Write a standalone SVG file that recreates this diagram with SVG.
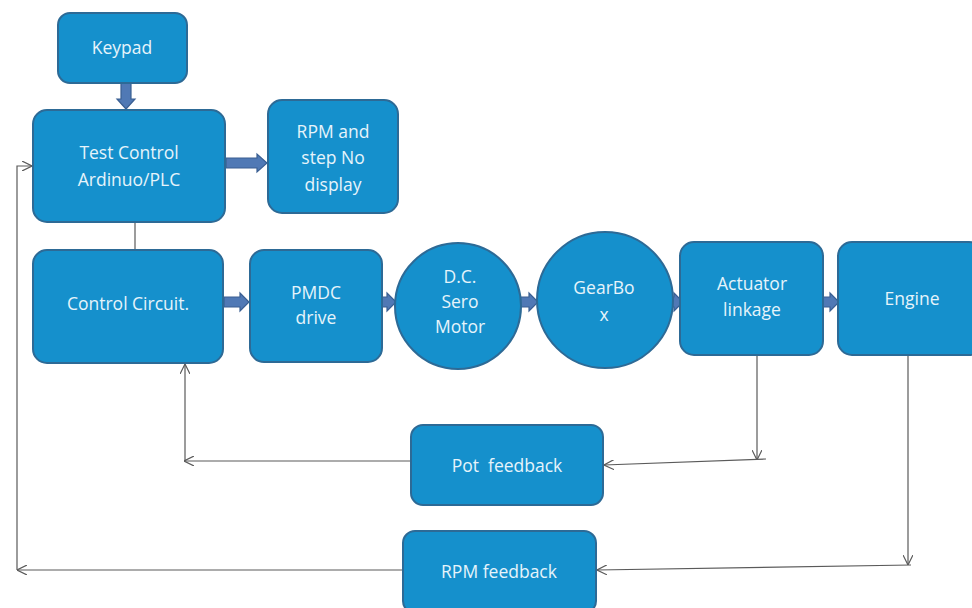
<svg xmlns="http://www.w3.org/2000/svg" width="972" height="608" viewBox="0 0 972 608">
<defs>
<style>
.n{fill:#1590cc;stroke:#2d6a96;stroke-width:2}
.t{fill:#e6f4fb;font-family:"Open Sans","Liberation Sans",sans-serif;font-size:17.5px;text-anchor:middle;white-space:pre}
.ln{fill:none;stroke:#5a5a5a;stroke-width:1.2}
.ba{fill:#5079b5;stroke:#3a5f92;stroke-width:1.2}
</style>
<marker id="ah" viewBox="0 0 10 10" refX="10" refY="5" markerWidth="10" markerHeight="10" markerUnits="userSpaceOnUse" orient="auto">
<path d="M0,0 L10,5 L0,10" fill="none" stroke="#5a5a5a" stroke-width="1.2"/>
</marker>
</defs>
<rect width="972" height="608" fill="#ffffff"/>
<g id="connectors">
<polygon class="ba" points="121,83 131,83 131,99 135,99 126,109 117,99 121,99"/>
<polygon class="ba" points="226,158 257,158 257,154 267,163 257,172 257,168 226,168"/>
<polygon class="ba" points="224,297 240,297 240,293 249,302 240,311 240,307 224,307"/>
<polygon class="ba" points="382,297 387,297 387,293 396,302 387,311 387,307 382,307"/>
<polygon class="ba" points="520,297 529,297 529,293 538,302 529,311 529,307 520,307"/>
<polygon class="ba" points="663,297 674,297 674,293 683,302 674,311 674,307 663,307"/>
<polygon class="ba" points="823,297 830,297 830,293 839,302 830,311 830,307 823,307"/>
<line class="ln" x1="135" y1="222" x2="135" y2="250"/>
<line class="ln" x1="757" y1="355" x2="757" y2="460" marker-end="url(#ah)"/>
<line class="ln" x1="766" y1="459" x2="604" y2="465" marker-end="url(#ah)"/>
<line class="ln" x1="411" y1="461" x2="184" y2="461" marker-end="url(#ah)"/>
<line class="ln" x1="185" y1="461" x2="185" y2="364" marker-end="url(#ah)"/>
<line class="ln" x1="908" y1="355" x2="908" y2="565" marker-end="url(#ah)"/>
<line class="ln" x1="911" y1="565" x2="597" y2="570" marker-end="url(#ah)"/>
<line class="ln" x1="403" y1="570" x2="17" y2="570" marker-end="url(#ah)"/>
<polyline class="ln" points="17,570 17,166 32,166" marker-end="url(#ah)"/>
</g>
<g id="keypad"><rect class="n" x="58" y="13" width="129" height="70" rx="12"/><text class="t" x="122" y="54">Keypad</text></g>
<g id="test-control"><rect class="n" x="33" y="110" width="192" height="112" rx="14"/><text class="t" x="129" y="159">Test Control</text><text class="t" x="129" y="186">Ardinuo/PLC</text></g>
<g id="rpm-display"><rect class="n" x="268" y="100" width="130" height="113" rx="14"/><text class="t" x="333" y="138">RPM and</text><text class="t" x="333" y="164">step No</text><text class="t" x="333" y="191">display</text></g>
<g id="control-circuit"><rect class="n" x="33" y="250" width="190" height="113" rx="14"/><text class="t" x="128" y="310">Control Circuit.</text></g>
<g id="pmdc-drive"><rect class="n" x="250" y="250" width="132" height="112" rx="14"/><text class="t" x="316" y="299">PMDC</text><text class="t" x="316" y="324">drive</text></g>
<g id="dc-motor"><circle class="n" cx="458" cy="306" r="63"/><text class="t" x="460" y="283">D.C.</text><text class="t" x="460" y="308">Sero</text><text class="t" x="460" y="333">Motor</text></g>
<g id="gearbox"><circle class="n" cx="605" cy="300" r="68"/><text class="t" x="604" y="294">GearBo</text><text class="t" x="604" y="321">x</text></g>
<g id="actuator"><rect class="n" x="680" y="242" width="143" height="113" rx="14"/><text class="t" x="752" y="290">Actuator</text><text class="t" x="752" y="316">linkage</text></g>
<g id="engine"><rect class="n" x="838" y="242" width="145" height="113" rx="14"/><text class="t" x="912" y="305">Engine</text></g>
<g id="pot-feedback"><rect class="n" x="411" y="425" width="192" height="80" rx="12"/><text class="t" x="507" y="472">Pot  feedback</text></g>
<g id="rpm-feedback"><rect class="n" x="403" y="531" width="193" height="82" rx="12"/><text class="t" x="499" y="578">RPM feedback</text></g>
</svg>
